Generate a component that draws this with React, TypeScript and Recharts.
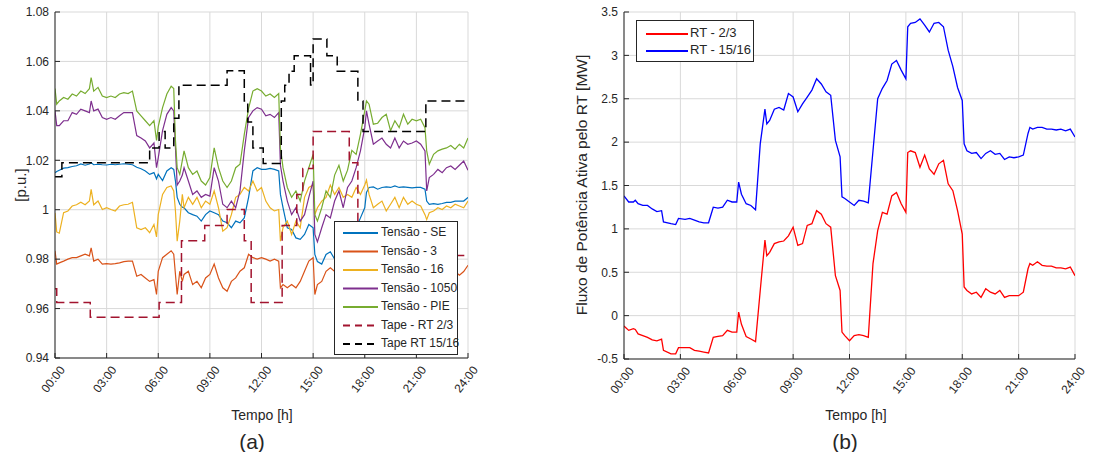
import React from 'react';
import { LineChart, Line, XAxis, YAxis, CartesianGrid, Legend } from 'recharts';

// ---------- shared ----------
const hourTicks = [0, 3, 6, 9, 12, 15, 18, 21, 24];
const voltTicks = [0.94, 0.96, 0.98, 1.0, 1.02, 1.04, 1.06, 1.08];
const fluxTicks = [-0.5, 0, 0.5, 1, 1.5, 2, 2.5, 3, 3.5];

// ---------- panel (a): voltages ----------
const voltHours = [
  0, 0.1, 0.25, 0.5, 0.75,
  1, 1.25, 1.5, 1.75,
  2, 2.1, 2.25, 2.5, 2.75,
  3, 3.25, 3.5, 3.75,
  4, 4.25, 4.5, 4.75,
  5, 5.25, 5.5, 5.75, 5.9,
  6, 6.25, 6.5, 6.75, 6.9,
  7, 7.1, 7.25, 7.4, 7.5, 7.75,
  8, 8.25, 8.5, 8.75,
  9, 9.25, 9.5, 9.75,
  10, 10.25, 10.5, 10.75,
  11, 11.25, 11.5, 11.75,
  12, 12.25, 12.5, 12.75,
  13, 13.1, 13.25, 13.5, 13.75,
  14, 14.25, 14.5, 14.75,
  15, 15.1, 15.25, 15.5, 15.75,
  16, 16.25, 16.5, 16.75,
  17, 17.25, 17.5, 17.75,
  18, 18.1, 18.25, 18.5, 18.75,
  19, 19.25, 19.5, 19.75,
  20, 20.25, 20.5, 20.75,
  21, 21.25, 21.5, 21.6, 21.75,
  22, 22.25, 22.5, 22.75,
  23, 23.25, 23.5, 23.75,
  24,
];

const tensaoSE = [
  1.015, 1.0155, 1.016, 1.0168, 1.017,
  1.0175, 1.0178, 1.0185, 1.018,
  1.0185, 1.019, 1.0182, 1.0184, 1.0182,
  1.0181, 1.0184, 1.0182, 1.0184,
  1.0186, 1.0184, 1.0182, 1.0172,
  1.0166, 1.0157, 1.0143, 1.015, 1.0125,
  1.0143, 1.0118, 1.0157, 1.017, 1.0163,
  1.0116, 1.005, 1.0022, 1.001, 1.0008, 0.9988,
  0.998, 0.9974, 0.9954, 0.998,
  0.9995, 0.9988, 0.998, 0.9954,
  0.9947, 0.9927, 0.9954, 0.9947,
  0.9967, 1.005, 1.0157, 1.017,
  1.0163, 1.0163, 1.0167, 1.0163,
  1.0157, 1.0062, 1.0008, 0.9927, 0.992,
  0.9886, 0.988, 0.99, 0.994,
  0.9927, 0.9819, 0.979, 0.978, 0.9819,
  0.983, 0.98, 0.9846, 0.9873,
  0.9886, 0.9913, 0.9927, 0.9967,
  1.0008, 1.007, 1.009, 1.0092, 1.0083,
  1.009, 1.0092, 1.009, 1.0096,
  1.009, 1.0092, 1.009, 1.0088,
  1.009, 1.009, 1.0083, 1.0035, 1.0022,
  1.0025, 1.0022, 1.0025, 1.003,
  1.003, 1.0035, 1.0035, 1.0035,
  1.005,
];

const tensao3 = [
  0.9834, 0.978, 0.9785, 0.9792, 0.98,
  0.9806, 0.9806, 0.9813, 0.982,
  0.9813, 0.9846, 0.9792, 0.98, 0.978,
  0.9782, 0.978, 0.9782, 0.9785,
  0.979, 0.9792, 0.9792, 0.9731,
  0.9738, 0.9724, 0.971, 0.9717, 0.9657,
  0.9751, 0.9806, 0.982, 0.9834, 0.982,
  0.9738, 0.9657, 0.9751, 0.971, 0.9738, 0.9751,
  0.9697, 0.971, 0.9684, 0.9724,
  0.9738, 0.978, 0.9724, 0.9684,
  0.967, 0.971, 0.9724, 0.9751,
  0.9765, 0.982, 0.9806, 0.98,
  0.9806, 0.98, 0.9792, 0.98,
  0.9792, 0.9684, 0.9697, 0.9684, 0.9697,
  0.9684, 0.971, 0.9751, 0.9792,
  0.9806, 0.9657, 0.9697, 0.971, 0.9751,
  0.9765, 0.975, 0.977, 0.976,
  0.978, 0.979, 0.98, 0.981,
  0.983, 0.986, 0.984, 0.981, 0.9815,
  0.982, 0.981, 0.98, 0.9815,
  0.981, 0.9815, 0.981, 0.9812,
  0.9815, 0.981, 0.98, 0.975, 0.974,
  0.9745, 0.974, 0.9748, 0.975,
  0.9745, 0.975, 0.9735, 0.975,
  0.9775,
];

const tensao16 = [
  0.9987, 0.991, 0.9905, 0.9988, 0.9995,
  1.0015, 1.002, 1.003, 1.002,
  1.0035, 1.0082, 1.002, 1.0035, 1.0001,
  1.0008, 1.0001, 0.9995, 1.0015,
  1.002, 1.0022, 1.003, 0.9927,
  0.992, 0.9927, 0.9907, 0.994, 0.989,
  0.998, 1.0062, 1.009, 1.0096, 1.0076,
  0.9995, 0.9873, 0.9954, 1.0062, 1.0008, 1.005,
  1.0022, 1.005, 1.0008, 1.0035,
  1.0022, 1.0076, 1.0008, 0.9913,
  0.9927, 0.998, 1.005, 1.0062,
  1.009, 1.0076, 1.0116, 1.0076,
  1.009, 1.0035, 1.0008, 0.9995,
  1.0001, 0.9873, 0.9927, 0.9954, 0.99,
  0.9954, 0.9927, 1.005, 1.009,
  1.01, 0.998, 1.0008, 1.0035, 1.005,
  1.01, 1.0062, 1.009, 1.005,
  1.0062, 1.005, 1.009, 1.0062,
  1.01, 1.012, 1.0062, 1.0008, 1.0022,
  1.0035, 0.9995, 1.0022, 1.005,
  1.0008, 1.005, 1.0022, 1.0035,
  1.0022, 1.0015, 0.998, 0.996, 0.9988,
  0.9995, 1.0008, 1.0001, 1.0015,
  1.0008, 1.0022, 1.0015, 1.0008,
  1.0035,
];

const tensao1050 = [
  1.04, 1.034, 1.034, 1.036, 1.036,
  1.0393, 1.0386, 1.0407, 1.04,
  1.0393, 1.044, 1.04, 1.0407, 1.0373,
  1.0366, 1.0373, 1.0366, 1.038,
  1.0393, 1.0393, 1.0393, 1.03,
  1.029, 1.0278, 1.025, 1.027, 1.017,
  1.021, 1.032, 1.0386, 1.0413, 1.04,
  1.025, 1.01, 1.0116, 1.014, 1.017, 1.0116,
  1.0062, 1.0076, 1.005, 1.0062,
  1.0055, 1.017, 1.0116, 1.0022,
  1.0008, 1.0035, 1.0008, 1.0076,
  1.0238, 1.0373, 1.04, 1.0413,
  1.0407, 1.038, 1.0386, 1.0373,
  1.0393, 1.018, 1.0116, 1.0035, 0.998,
  1.0008, 0.9954, 0.998, 1.005,
  1.0116, 0.99, 0.987, 0.9927, 0.998,
  0.9967, 1.0035, 1.0076, 1.0008,
  1.009, 1.0116, 1.017, 1.0238,
  1.0332, 1.04, 1.0346, 1.0265, 1.0278,
  1.029, 1.0265, 1.025, 1.029,
  1.025, 1.0278, 1.0265, 1.027,
  1.0278, 1.0265, 1.0238, 1.0076, 1.013,
  1.0143, 1.0163, 1.015, 1.017,
  1.0177, 1.0163, 1.018, 1.0197,
  1.016,
];

const tensaoPIE = [
  1.049, 1.0427, 1.044, 1.0454, 1.0447,
  1.0468, 1.046, 1.048, 1.047,
  1.049, 1.0535, 1.048, 1.0495, 1.046,
  1.0454, 1.046, 1.0454, 1.0468,
  1.0474, 1.047, 1.048, 1.04,
  1.038, 1.036, 1.034, 1.036, 1.028,
  1.0336, 1.0413, 1.0468, 1.05, 1.049,
  1.028, 1.017, 1.0143, 1.02, 1.0238, 1.017,
  1.0143, 1.0157, 1.0116, 1.01,
  1.013, 1.025, 1.017, 1.0116,
  1.009, 1.0116, 1.017, 1.0184,
  1.0305, 1.041, 1.048, 1.049,
  1.048, 1.046, 1.0468, 1.0454,
  1.047, 1.025, 1.017, 1.009, 1.005,
  1.0076, 1.0035, 1.0116, 1.017,
  1.0224, 0.998, 0.9954, 1.0008, 1.0076,
  1.005, 1.014, 1.018, 1.0116,
  1.016, 1.024, 1.0224, 1.0305,
  1.04, 1.044, 1.0427, 1.0346, 1.035,
  1.0373, 1.0386, 1.032, 1.036,
  1.0332, 1.0386, 1.0346, 1.0366,
  1.036, 1.0366, 1.0332, 1.0238, 1.0184,
  1.0224, 1.0238, 1.0245, 1.025,
  1.026, 1.0245, 1.0265, 1.025,
  1.029,
];

const tapeRT23Hours = [0, 0.1, 2.05, 6.05, 7.35, 8.7, 10.0, 11.0, 11.4, 13.2, 14.05, 14.4, 15.0, 17.1, 17.6, 18.0, 24];
const tapeRT23 = [0.968, 0.9625, 0.9565, 0.9625, 0.9874, 0.9936, 1.0001, 0.9874, 0.9625, 0.9936, 1.0062, 1.0167, 1.0316, 1.019, 0.994, 0.9815, 0.9815];

const tapeRT1516Hours = [0, 0.4, 5.5, 6.05, 6.4, 6.9, 7.2, 10.0, 11.0, 11.2, 11.5, 12.1, 13.15, 13.35, 13.6, 13.9, 14.85, 15.0, 15.8, 16.4, 17.6, 17.9, 21.55, 24];
const tapeRT1516 = [1.0133, 1.019, 1.025, 1.0316, 1.025, 1.037, 1.0504, 1.0562, 1.044, 1.0355, 1.025, 1.0187, 1.044, 1.0504, 1.056, 1.0623, 1.0505, 1.0691, 1.0623, 1.056, 1.044, 1.0316, 1.044, 1.044];

// ---------- panel (b): active power flow ----------
const fluxHours = [
  0, 0.25, 0.5, 0.6, 0.75,
  1, 1.25, 1.5, 1.75,
  2, 2.1, 2.5, 2.75, 2.9,
  3.25, 3.5, 3.75,
  4, 4.25, 4.5, 4.75,
  5, 5.25, 5.5, 5.75,
  6, 6.1, 6.25, 6.5, 6.75,
  7, 7.25, 7.5, 7.6, 7.75,
  8, 8.25, 8.5, 8.75,
  9, 9.25, 9.5, 9.75,
  10, 10.25, 10.5, 10.75,
  11, 11.25, 11.5, 11.6, 11.75,
  12, 12.25, 12.5, 12.75,
  13, 13.25, 13.5, 13.75,
  14, 14.25, 14.5, 14.75,
  15, 15.1, 15.25, 15.5, 15.75,
  16, 16.25, 16.5, 16.75,
  17, 17.25, 17.5, 17.75,
  18, 18.1, 18.25, 18.5, 18.75,
  19, 19.25, 19.5, 19.75,
  20, 20.25, 20.5, 20.75,
  21, 21.25, 21.5, 21.6, 21.75,
  22, 22.25, 22.5, 22.75,
  23, 23.25, 23.5, 23.75,
  24,
];

const fluxRT1516 = [
  1.38, 1.31, 1.31, 1.33, 1.29,
  1.27, 1.27, 1.23, 1.2,
  1.21, 1.08, 1.06, 1.05, 1.12,
  1.11, 1.12, 1.1,
  1.08, 1.07, 1.07, 1.25,
  1.24, 1.25, 1.33, 1.31,
  1.31, 1.54, 1.4, 1.29, 1.27,
  1.22, 1.98, 2.38, 2.21, 2.25,
  2.38, 2.4, 2.37, 2.56,
  2.52, 2.35, 2.44, 2.52,
  2.6, 2.73, 2.67, 2.58,
  2.54, 2.02, 1.83, 1.37, 1.35,
  1.31, 1.27, 1.33, 1.32,
  1.3, 1.9, 2.5, 2.62,
  2.71, 2.9, 2.94, 2.83,
  2.73, 3.33, 3.37, 3.38, 3.42,
  3.35, 3.27, 3.37, 3.38,
  3.33, 3.06, 2.87, 2.63,
  2.48, 1.98, 1.9, 1.87, 1.88,
  1.81, 1.87, 1.9, 1.86,
  1.87, 1.8, 1.83, 1.82,
  1.83, 1.85, 2.1, 2.17, 2.15,
  2.17, 2.17, 2.15, 2.15,
  2.14, 2.15, 2.13, 2.15,
  2.06,
];

const fluxRT23 = [
  -0.12, -0.17, -0.15, -0.16, -0.21,
  -0.23, -0.25, -0.28, -0.29,
  -0.27, -0.4, -0.44, -0.44, -0.37,
  -0.37, -0.37, -0.4,
  -0.41, -0.42, -0.43, -0.25,
  -0.24, -0.23, -0.17, -0.19,
  -0.19, 0.04, -0.1, -0.24, -0.27,
  -0.3, 0.29, 0.87, 0.69, 0.73,
  0.83, 0.85, 0.86, 0.92,
  1.02, 0.81, 0.83, 1.04,
  1.06, 1.21, 1.17, 1.06,
  1.02, 0.46, 0.29, -0.19, -0.23,
  -0.29, -0.23, -0.22, -0.23,
  -0.25, 0.6, 0.98, 1.19,
  1.17, 1.38, 1.42, 1.29,
  1.19, 1.88, 1.9, 1.88, 1.71,
  1.85, 1.69, 1.63, 1.75,
  1.79, 1.52, 1.44, 1.21,
  0.94, 0.33, 0.29, 0.25, 0.27,
  0.21, 0.31, 0.27, 0.25,
  0.29, 0.21, 0.23, 0.23,
  0.23, 0.27, 0.54, 0.6, 0.58,
  0.62, 0.58, 0.57, 0.57,
  0.55, 0.55, 0.54, 0.56,
  0.46,
];

// ---------- helpers ----------
const FONT = '"Liberation Sans", Arial, Helvetica, sans-serif';
const AX = '#262626';
const GRID = '#d9d9d9';

const pairs = (ts: number[], vs: number[]) => ts.map((t, i) => ({ t, v: vs[i] }));
const fmtHour = (h: number) => `${String(h).padStart(2, '0')}:00`;
const fmtNum = (v: number) => String(Math.round(v * 100) / 100);

const XTick = (props: any) => {
  const { x, y, payload } = props;
  return (
    <text
      transform={`translate(${x + 8},${y + 3}) rotate(-52)`}
      textAnchor="end"
      dominantBaseline="middle"
      fontSize={12}
      fontFamily={FONT}
      fill={AX}
    >
      {fmtHour(payload.value)}
    </text>
  );
};

type Item = { name: string; color: string; dash?: string };

const leftItems: Item[] = [
  { name: 'Tensão - SE', color: '#0072BD' },
  { name: 'Tensão - 3', color: '#D95319' },
  { name: 'Tensão - 16', color: '#EDB120' },
  { name: 'Tensão - 1050', color: '#7E2F8E' },
  { name: 'Tensão - PIE', color: '#77AC30' },
  { name: 'Tape - RT 2/3', color: '#A2142F', dash: '7 5' },
  { name: 'Tape RT 15/16', color: '#000000', dash: '7 5' },
];
const rightItems: Item[] = [
  { name: 'RT - 2/3', color: '#FF0000' },
  { name: 'RT - 15/16', color: '#0000FF' },
];

const makeLegend = (items: Item[], w: number, h: number, rowTop: number, rowStep: number, x1: number, x2: number, tx: number, fs: number) => () => (
  <div style={{ width: w, height: h, boxSizing: 'border-box', border: `1px solid ${AX}`, background: '#fff' }}>
    <svg width={w - 2} height={h - 2} style={{ display: 'block', overflow: 'visible' }}>
      {items.map((it, i) => {
        const yy = rowTop + i * rowStep;
        return (
          <g key={it.name}>
            <line x1={x1} x2={x2} y1={yy} y2={yy} stroke={it.color} strokeWidth={2} strokeDasharray={it.dash} />
            <text x={tx} y={yy} dominantBaseline="middle" fontSize={fs} fontFamily={FONT} fill={AX}>
              {it.name}
            </text>
          </g>
        );
      })}
    </svg>
  </div>
);

const Txt = ({ x, y, size, rot, children }: any) => (
  <div
    style={{
      position: 'absolute',
      left: x,
      top: y,
      transform: `translate(-50%,-50%)${rot ? ` rotate(${rot}deg)` : ''}`,
      fontFamily: FONT,
      fontSize: size,
      color: AX,
      whiteSpace: 'nowrap',
      lineHeight: 1,
    }}
  >
    {children}
  </div>
);

export default function App() {
  const lw = 1.2;
  return (
    <div style={{ position: 'absolute', left: 0, top: 0, width: 1094, height: 452, background: '#fff', overflow: 'hidden' }}>
      {/* Panel (a) */}
      <div style={{ position: 'absolute', left: 0, top: 0 }}>
        <LineChart width={480} height={452} margin={{ top: 12, right: 12, bottom: 54, left: 0 }}>
          <CartesianGrid stroke={GRID} />
          <XAxis dataKey="t" type="number" domain={[0, 24]} ticks={hourTicks} tick={<XTick />} tickSize={-5} tickMargin={12} height={40} stroke={AX} allowDataOverflow interval={0} />
          <XAxis xAxisId="top" orientation="top" type="number" domain={[0, 24]} ticks={hourTicks} tick={false} tickSize={-5} height={0} stroke={AX} allowDataOverflow />
          <YAxis type="number" domain={[0.94, 1.08]} ticks={voltTicks} tickFormatter={fmtNum} tickSize={-5} tickMargin={11} width={55} stroke={AX} tick={{ fontSize: 12, fill: AX, fontFamily: FONT }} allowDataOverflow interval={0} />
          <YAxis yAxisId="right" orientation="right" type="number" domain={[0.94, 1.08]} ticks={voltTicks} tick={false} tickSize={-5} width={0} stroke={AX} allowDataOverflow />
          <Line data={pairs(voltHours, tensaoSE)} dataKey="v" name="Tensão - SE" stroke="#0072BD" strokeWidth={lw} dot={false} isAnimationActive={false} />
          <Line data={pairs(voltHours, tensao3)} dataKey="v" name="Tensão - 3" stroke="#D95319" strokeWidth={lw} dot={false} isAnimationActive={false} />
          <Line data={pairs(voltHours, tensao16)} dataKey="v" name="Tensão - 16" stroke="#EDB120" strokeWidth={lw} dot={false} isAnimationActive={false} />
          <Line data={pairs(voltHours, tensao1050)} dataKey="v" name="Tensão - 1050" stroke="#7E2F8E" strokeWidth={lw} dot={false} isAnimationActive={false} />
          <Line data={pairs(voltHours, tensaoPIE)} dataKey="v" name="Tensão - PIE" stroke="#77AC30" strokeWidth={lw} dot={false} isAnimationActive={false} />
          <Line data={pairs(tapeRT23Hours, tapeRT23)} type="stepAfter" dataKey="v" name="Tape - RT 2/3" stroke="#A2142F" strokeWidth={1.5} strokeDasharray="9 5" dot={false} isAnimationActive={false} />
          <Line data={pairs(tapeRT1516Hours, tapeRT1516)} type="stepAfter" dataKey="v" name="Tape RT 15/16" stroke="#000000" strokeWidth={1.5} strokeDasharray="9 5" dot={false} isAnimationActive={false} />
          <Legend
            layout="vertical"
            align="center"
            verticalAlign="middle"
            content={makeLegend(leftItems, 124, 134, 11, 18.5, 8, 43, 46, 12)}
            wrapperStyle={{ left: 334, top: 221, width: 124, height: 134 }}
          />
        </LineChart>
      </div>

      {/* Panel (b) */}
      <div style={{ position: 'absolute', left: 560, top: 0 }}>
        <LineChart width={534} height={452} margin={{ top: 12, right: 19, bottom: 53, left: 0 }}>
          <CartesianGrid stroke={GRID} />
          <XAxis dataKey="t" type="number" domain={[0, 24]} ticks={hourTicks} tick={<XTick />} tickSize={-5} tickMargin={12} height={40} stroke={AX} allowDataOverflow interval={0} />
          <XAxis xAxisId="top" orientation="top" type="number" domain={[0, 24]} ticks={hourTicks} tick={false} tickSize={-5} height={0} stroke={AX} allowDataOverflow />
          <YAxis type="number" domain={[-0.5, 3.5]} ticks={fluxTicks} tickFormatter={fmtNum} tickSize={-5} tickMargin={11} width={64} stroke={AX} tick={{ fontSize: 12, fill: AX, fontFamily: FONT }} allowDataOverflow interval={0} />
          <YAxis yAxisId="right" orientation="right" type="number" domain={[-0.5, 3.5]} ticks={fluxTicks} tick={false} tickSize={-5} width={0} stroke={AX} allowDataOverflow />
          <Line data={pairs(fluxHours, fluxRT23)} dataKey="v" name="RT - 2/3" stroke="#FF0000" strokeWidth={1.3} dot={false} isAnimationActive={false} />
          <Line data={pairs(fluxHours, fluxRT1516)} dataKey="v" name="RT - 15/16" stroke="#0000FF" strokeWidth={1.3} dot={false} isAnimationActive={false} />
          <Legend
            layout="vertical"
            align="center"
            verticalAlign="middle"
            content={makeLegend(rightItems, 118, 42, 13, 17, 9, 51, 53, 13)}
            wrapperStyle={{ left: 76, top: 20, width: 118, height: 42 }}
          />
        </LineChart>
      </div>

      <Txt x={20} y={185} size={15} rot={-90}>[p.u.]</Txt>
      <Txt x={262} y={415} size={14}>Tempo [h]</Txt>
      <Txt x={252} y={441} size={21}>(a)</Txt>
      <Txt x={582} y={185} size={15.5} rot={-90}>Fluxo de Potência Ativa pelo RT [MW]</Txt>
      <Txt x={856} y={415} size={14}>Tempo [h]</Txt>
      <Txt x={845} y={441} size={21}>(b)</Txt>
    </div>
  );
}
